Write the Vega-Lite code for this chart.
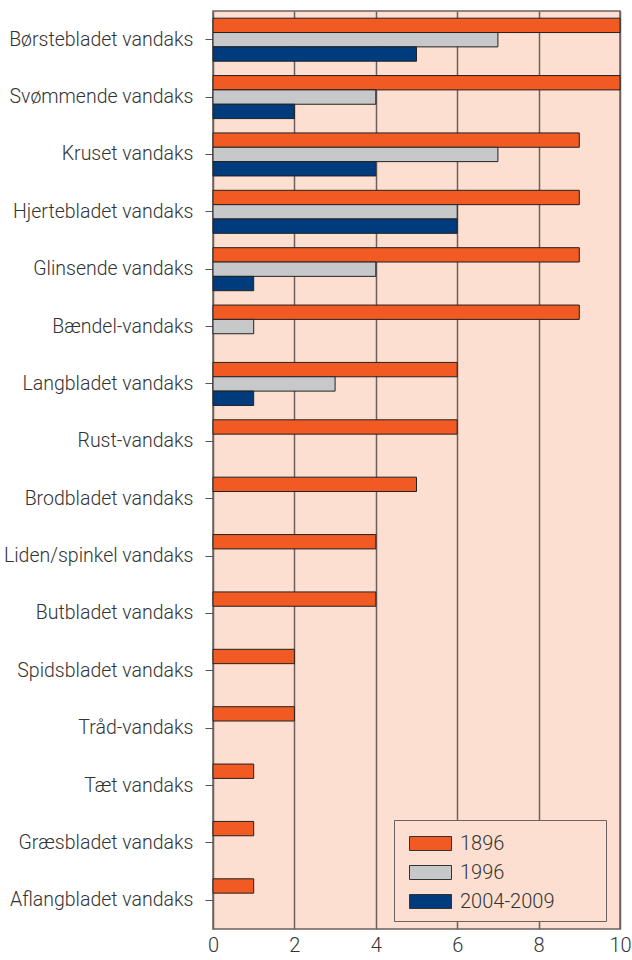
{
  "$schema": "https://vega.github.io/schema/vega-lite/v6.json",
  "width": 407,
  "height": 918,
  "padding": {"top": 11, "left": 3, "right": 0, "bottom": 5},
  "background": "white",
  "config": {
    "font": "Roboto",
    "view": {"fill": "#FCDFD0", "stroke": "#6b6160", "strokeWidth": 1.5},
    "axis": {"labelFont": "Roboto", "labelFontWeight": 300, "labelColor": "#333333", "domainColor": "#555", "tickColor": "#555"}
  },
  "data": {
    "values": [
      {"art": "Børstebladet vandaks", "periode": "1896", "antal": 10},
      {"art": "Børstebladet vandaks", "periode": "1996", "antal": 7},
      {"art": "Børstebladet vandaks", "periode": "2004-2009", "antal": 5},
      {"art": "Svømmende vandaks", "periode": "1896", "antal": 10},
      {"art": "Svømmende vandaks", "periode": "1996", "antal": 4},
      {"art": "Svømmende vandaks", "periode": "2004-2009", "antal": 2},
      {"art": "Kruset vandaks", "periode": "1896", "antal": 9},
      {"art": "Kruset vandaks", "periode": "1996", "antal": 7},
      {"art": "Kruset vandaks", "periode": "2004-2009", "antal": 4},
      {"art": "Hjertebladet vandaks", "periode": "1896", "antal": 9},
      {"art": "Hjertebladet vandaks", "periode": "1996", "antal": 6},
      {"art": "Hjertebladet vandaks", "periode": "2004-2009", "antal": 6},
      {"art": "Glinsende vandaks", "periode": "1896", "antal": 9},
      {"art": "Glinsende vandaks", "periode": "1996", "antal": 4},
      {"art": "Glinsende vandaks", "periode": "2004-2009", "antal": 1},
      {"art": "Bændel-vandaks", "periode": "1896", "antal": 9},
      {"art": "Bændel-vandaks", "periode": "1996", "antal": 1},
      {"art": "Langbladet vandaks", "periode": "1896", "antal": 6},
      {"art": "Langbladet vandaks", "periode": "1996", "antal": 3},
      {"art": "Langbladet vandaks", "periode": "2004-2009", "antal": 1},
      {"art": "Rust-vandaks", "periode": "1896", "antal": 6},
      {"art": "Brodbladet vandaks", "periode": "1896", "antal": 5},
      {"art": "Liden/spinkel vandaks", "periode": "1896", "antal": 4},
      {"art": "Butbladet vandaks", "periode": "1896", "antal": 4},
      {"art": "Spidsbladet vandaks", "periode": "1896", "antal": 2},
      {"art": "Tråd-vandaks", "periode": "1896", "antal": 2},
      {"art": "Tæt vandaks", "periode": "1896", "antal": 1},
      {"art": "Græsbladet vandaks", "periode": "1896", "antal": 1},
      {"art": "Aflangbladet vandaks", "periode": "1896", "antal": 1}
    ]
  },
  "mark": {"type": "bar", "stroke": "#222", "strokeWidth": 1},
  "encoding": {
    "y": {
      "field": "art", "type": "nominal", "sort": null,
      "scale": {"paddingInner": 0.25, "paddingOuter": 0.125},
      "axis": {"title": null, "labelFontSize": 19.5, "labelPadding": 12, "tickSize": 8, "labelLimit": 300, "domain": false}
    },
    "yOffset": {
      "field": "periode", "type": "nominal",
      "scale": {"domain": ["1896", "1996", "2004-2009"], "paddingInner": 0, "paddingOuter": 0}
    },
    "x": {
      "field": "antal", "type": "quantitative",
      "scale": {"domain": [0, 10], "nice": false},
      "axis": {"title": null, "values": [0, 2, 4, 6, 8, 10], "labelFontSize": 20, "ticks": false, "domain": false, "labelPadding": 6, "grid": true, "gridColor": "#6b6160", "gridWidth": 1.5, "gridOpacity": 1, "labelFlush": false}
    },
    "color": {
      "field": "periode", "type": "nominal",
      "scale": {"domain": ["1896", "1996", "2004-2009"], "range": ["#F15A22", "#C7C8CA", "#003C7D"]},
      "legend": {
        "title": "\u2003", "titleOrient": "right", "titlePadding": 43, "titleFontSize": 10,
        "orient": "none", "legendX": 181, "legendY": 809,
        "fillColor": "#FCDFD0", "strokeColor": "#6b6160", "padding": 9,
        "symbolType": "M-1.5,-0.5H1.5V0.5H-1.5Z", "symbolSize": 784, "symbolOffset": 13,
        "symbolStrokeColor": "#333", "symbolStrokeWidth": 1,
        "labelFontSize": 20, "labelFont": "Roboto", "labelFontWeight": 300, "labelColor": "#333333",
        "rowPadding": 4, "labelOffset": 15,
        "symbolOpacity": 1
      }
    }
  }
}
